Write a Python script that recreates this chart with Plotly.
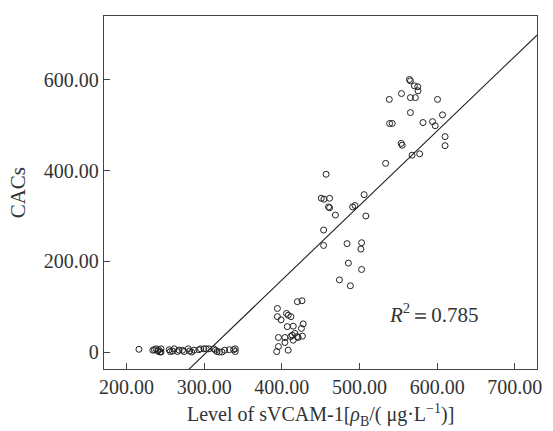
import plotly.graph_objects as go
import numpy as np

# sVCAM-1 level (x) and CACs (y)
svcam1 = [216, 233.8, 235.9, 238, 240.2, 241.4, 243.1, 244.4, 244.4, 255, 256.3, 259.3, 261.4,
          265.6, 267.7, 272, 274.1, 279.6, 281.3, 283.9, 286.9, 293.2, 295.3, 299.6, 302.6, 306,
          312.4, 314.5, 316.6, 319.6, 323, 326.4, 332.4, 337.9, 340, 340,
          394.3, 394.3, 399, 406, 408.2, 411.7, 407, 414.7, 420, 426, 395.6, 404, 395.6, 393.4,
          408.2, 404, 413.4, 414.7, 420, 425.2, 427.5, 426.5, 421, 416.8, 411.5,
          450.8, 454.2, 461.5, 460.2, 461.5, 469, 491.2, 494.2, 506, 508.2, 453.8, 453.8, 484,
          502.7, 501.8, 485.7, 502.7, 474.2, 488.3, 457,
          533.7, 567.7, 577.5, 553.7, 555, 610.2, 610.2, 538.8, 542.2, 565.6, 581.8, 594.1,
          597.5, 606.9, 538.4, 554.1, 565.6, 572, 564.3, 565.6, 570.7, 575, 575.4, 600.5]
cacs = [6, 4, 5, 7, 2, 5, 0, 7, 0, 5, 1, 2, 7,
        1, 4, 4, 1, 7, 2, 0, 4, 5, 7, 7, 7, 7,
        7, 4, 1, 0, 0, 4, 5, 5, 7, 1,
        96, 78, 71, 85, 81, 78, 56, 57, 111, 113, 32, 32, 12, 1,
        4, 21, 37, 26, 34, 52, 62, 35, 32, 41, 34,
        339, 337, 339, 320, 318, 302, 320, 323, 347, 300, 269, 235, 239,
        241, 227, 196, 182, 159, 146, 392,
        416, 434, 437, 460, 456, 475, 455, 504, 504, 528, 506, 508,
        499, 523, 557, 570, 561, 561, 601, 598, 587, 585, 576, 557]

# fitted line
fit_slope = 1.644
fit_intercept = -499.0

x_ticks = [200, 300, 400, 500, 600, 700]
x_tick_text = ["200.00", "300.00", "400.00", "500.00", "600.00", "700.00"]
y_ticks = [0, 200, 400, 600]
y_tick_text = ["0", "200.00", "400.00", "600.00"]
x_range = [171, 728.6]
y_range = [-37.5, 741]

FONT = "Liberation Serif"
TXT = "#333333"
AX = "#444444"

fig = go.Figure()
lx = np.array(x_range)
fig.add_trace(go.Scatter(x=lx, y=fit_slope * lx + fit_intercept, mode="lines",
                         line=dict(color="#222222", width=1.1), hoverinfo="skip",
                         showlegend=False))
fig.add_trace(go.Scatter(x=svcam1, y=cacs, mode="markers",
                         marker=dict(symbol="circle-open", size=6,
                                     line=dict(color="#222222", width=1), color="#222222"),
                         showlegend=False))

fig.update_layout(
    width=553, height=431,
    margin=dict(l=104, r=11, t=16, b=62),
    paper_bgcolor="white", plot_bgcolor="white",
    font=dict(family=FONT, size=20, color=TXT),
    xaxis=dict(range=x_range, tickvals=x_ticks, ticktext=x_tick_text,
               showgrid=False, zeroline=False, showline=True, mirror=True,
               linecolor=AX, linewidth=1.3, ticks="inside", ticklen=6,
               tickcolor=AX, tickwidth=1.3,
               tickfont=dict(family=FONT, size=20, color=TXT)),
    yaxis=dict(range=y_range, tickvals=y_ticks, ticktext=y_tick_text,
               showgrid=False, zeroline=False, showline=True, mirror=True,
               linecolor=AX, linewidth=1.3, ticks="inside", ticklen=6,
               tickcolor=AX, tickwidth=1.3,
               tickfont=dict(family=FONT, size=20, color=TXT)),
    annotations=[
        dict(text="Level of sVCAM-1[<i>ρ</i><sub>B</sub>/( μg·L<sup>−1</sup>)]",
             xref="paper", yref="paper", x=0.5, y=-0.131,
             xanchor="center", yanchor="middle", showarrow=False,
             font=dict(family=FONT, size=20, color=TXT)),
        dict(text="CACs", xref="paper", yref="paper", x=-0.199, y=0.5, textangle=-90,
             xanchor="center", yanchor="middle", showarrow=False,
             font=dict(family=FONT, size=21, color=TXT)),
        dict(text="<i>R</i><sup>2</sup>＝0.785", xref="x", yref="y", x=535, y=85,
             xanchor="left", yanchor="middle", showarrow=False,
             font=dict(family=FONT, size=21, color=TXT)),
    ],
)

fig.write_html("out.html", config={"displayModeBar": False},
               post_script="document.body.style.margin='0';document.body.style.padding='0';")
